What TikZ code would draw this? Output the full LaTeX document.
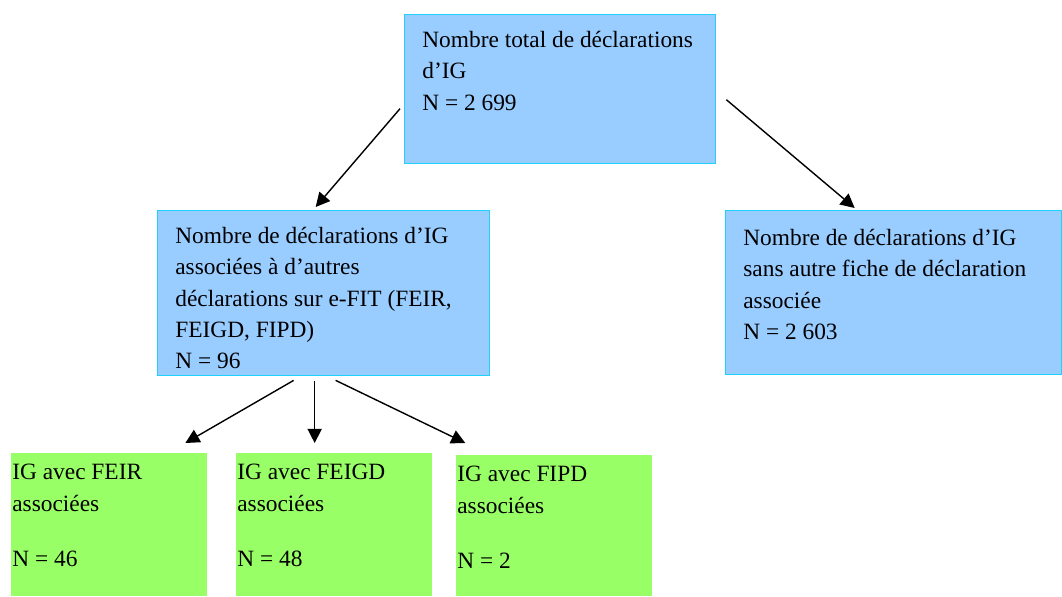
\documentclass[tikz,border=0pt]{standalone}
\usepackage{fontspec}
\setmainfont{Liberation Serif}
\usetikzlibrary{arrows.meta,calc}
\definecolor{boxc}{RGB}{153,204,255}
\definecolor{edgec}{RGB}{30,210,255}
\definecolor{leafc}{RGB}{153,255,102}

\begin{document}
\begin{tikzpicture}[x=0.02cm,y=-0.02cm,>={Triangle[length=8pt,width=8pt]},
  bluebox/.style={draw=edgec,fill=boxc,line width=0.8pt,inner sep=0pt,anchor=north west},
  leafbox/.style={fill=leafc,inner sep=0pt,anchor=north west,minimum width=3.92cm},
  txt/.style={anchor=north west,align=left,inner sep=0pt,font=\fontsize{13.3}{17.8}\selectfont},
  flow/.style={->,line width=0.8pt}]

\useasboundingbox (0,0) rectangle (1062,596);

%================= top level =================
\node[bluebox,minimum width=6.22cm,minimum height=2.98cm] (total) at (404,14) {};
\node[txt] (totalt) at (422,31)
  {Nombre total de déclarations\\ d’IG\\ N = 2~699};

%================= second level =================
\node[bluebox,minimum width=6.64cm,minimum height=3.30cm] (assoc) at (157,210) {};
\node[txt] (assoct) at (175,227)
  {Nombre de déclarations d’IG\\ associées à d’autres\\ déclarations sur e-FIT (FEIR,\\
   FEIGD, FIPD)\\ N = 96};

\node[bluebox,minimum width=6.72cm,minimum height=3.28cm] (alone) at (725,210) {};
\node[txt] (alonet) at (743,229)
  {Nombre de déclarations d’IG\\ sans autre fiche de déclaration\\ associée\\ N = 2~603};

%================= third level =================
\node[leafbox,minimum height=2.86cm] (feir) at (11,453) {};
\node[txt] (feirt) at (12,464) {IG avec FEIR\\ associées\\[14pt] N = 46};

\node[leafbox,minimum height=2.86cm] (feigd) at (236,453) {};
\node[txt] (feigdt) at (237,464) {IG avec FEIGD\\ associées\\[14pt] N = 48};

\node[leafbox,minimum height=2.82cm] (fipd) at (456,455) {};
\node[txt] (fipdt) at (457,466) {IG avec FIPD\\ associées\\[14pt] N = 2};

% --- arrows
\draw[flow] ($(total.west)+(-4,19.5)$) -- ($(assoc.north)+(-8,-3)$);
\draw[flow] ($(total.east)+(10,10.5)$) -- ($(alone.north)+(-39,-2)$);
\draw[flow] ($(assoc.south)+(-30,4)$) -- ($(feir.north)+(76,-10)$);
\draw[flow] ($(assoc.south)+(-9,5)$) coordinate (down) -- (down |- {$(feigd.north)+(0,-10)$});
\draw[flow] ($(assoc.south)+(12,4)$) -- ($(fipd.north)+(-89,-12)$);
\end{tikzpicture}
\end{document}
